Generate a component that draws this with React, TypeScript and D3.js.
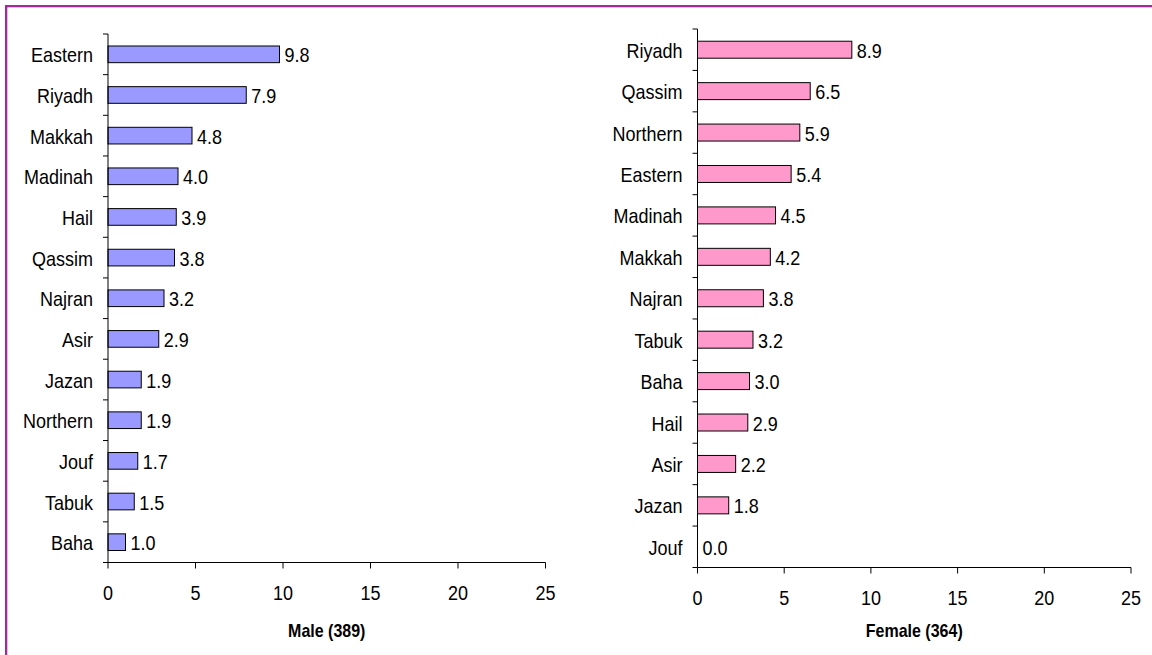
import React from "react";
import * as d3 from "d3";

const maleCategories = ["Eastern", "Riyadh", "Makkah", "Madinah", "Hail", "Qassim", "Najran", "Asir", "Jazan", "Northern", "Jouf", "Tabuk", "Baha"];
const maleValues = [9.8, 7.9, 4.8, 4.0, 3.9, 3.8, 3.2, 2.9, 1.9, 1.9, 1.7, 1.5, 1.0];
const femaleCategories = ["Riyadh", "Qassim", "Northern", "Eastern", "Madinah", "Makkah", "Najran", "Tabuk", "Baha", "Hail", "Asir", "Jazan", "Jouf"];
const femaleValues = [8.9, 6.5, 5.9, 5.4, 4.5, 4.2, 3.8, 3.2, 3.0, 2.9, 2.2, 1.8, 0.0];
const xTicks = [0, 5, 10, 15, 20, 25];
const maleTitle = "Male (389)";
const femaleTitle = "Female (364)";

const FONT = "'Liberation Sans', Arial, Helvetica, sans-serif";
const SY = 1.15;

function T({ x, y, anchor = "start", size = 18, bold = false, children }: any) {
  return (
    <text
      transform={`translate(${x},${y}) scale(1,${SY})`}
      textAnchor={anchor}
      fontSize={size}
      fontWeight={bold ? "bold" : "normal"}
      fontFamily={FONT}
      fill="#000"
    >
      {children}
    </text>
  );
}

function Panel({ categories, values, x0, x1, y0, y1, fill, title }: any) {
  const x = d3.scaleLinear().domain([0, 25]).range([x0, x1]);
  const y = d3.scaleBand<string>().domain(categories).range([y0, y1]).paddingInner(0.59).paddingOuter(0.295);
  const step = y.step();
  const fmt = d3.format(".1f");
  const boundaries = d3.range(categories.length + 1).map((i) => y0 + i * step);
  return (
    <g>
      {categories.map((c: string, i: number) => (
        <g key={c}>
          {values[i] > 0 && (
            <rect
              x={x(0)}
              y={y(c)!}
              width={x(values[i]) - x(0)}
              height={y.bandwidth()}
              fill={fill}
              stroke="#000"
              strokeWidth={1}
            />
          )}
          <T x={x(values[i]) + 5} y={y(c)! + y.bandwidth() / 2 + 8}>{fmt(values[i])}</T>
          <T x={x0 - 15} y={y(c)! + y.bandwidth() / 2 + 8} anchor="end">{c}</T>
        </g>
      ))}
      <line x1={x0} x2={x0} y1={y0} y2={y1} stroke="#000" strokeWidth={1} />
      {boundaries.map((b, i) => (
        <line key={i} x1={x0 - 5} x2={x0} y1={b} y2={b} stroke="#000" strokeWidth={1} />
      ))}
      <line x1={x0} x2={x(25)} y1={y1} y2={y1} stroke="#000" strokeWidth={1} />
      {xTicks.map((t) => (
        <g key={t}>
          <line x1={x(t)} x2={x(t)} y1={y1} y2={y1 + 6} stroke="#000" strokeWidth={1} />
          <T x={x(t)} y={y1 + 37} anchor="middle">{t}</T>
        </g>
      ))}
      <T x={(x0 + x1) / 2} y={637} anchor="middle" size={16} bold>{title}</T>
    </g>
  );
}

export default function App() {
  return (
    <svg
      width={1152}
      height={655}
      style={{ position: "absolute", left: 0, top: 0, background: "#fff" }}
    >
      <rect x={0} y={0} width={1152} height={655} fill="#fff" />
      <rect x={5} y={5} width={1147} height={2.3} fill="#A3299D" />
      <rect x={5} y={5} width={2.3} height={650} fill="#A3299D" />
      <Panel categories={maleCategories} values={maleValues} x0={108} x1={545.5} y0={34} y1={562.5} fill="#9999FF" title={maleTitle} />
      <Panel categories={femaleCategories} values={femaleValues} x0={697.5} x1={1131} y0={29} y1={567.5} fill="#FF99CC" title={femaleTitle} />
    </svg>
  );
}
